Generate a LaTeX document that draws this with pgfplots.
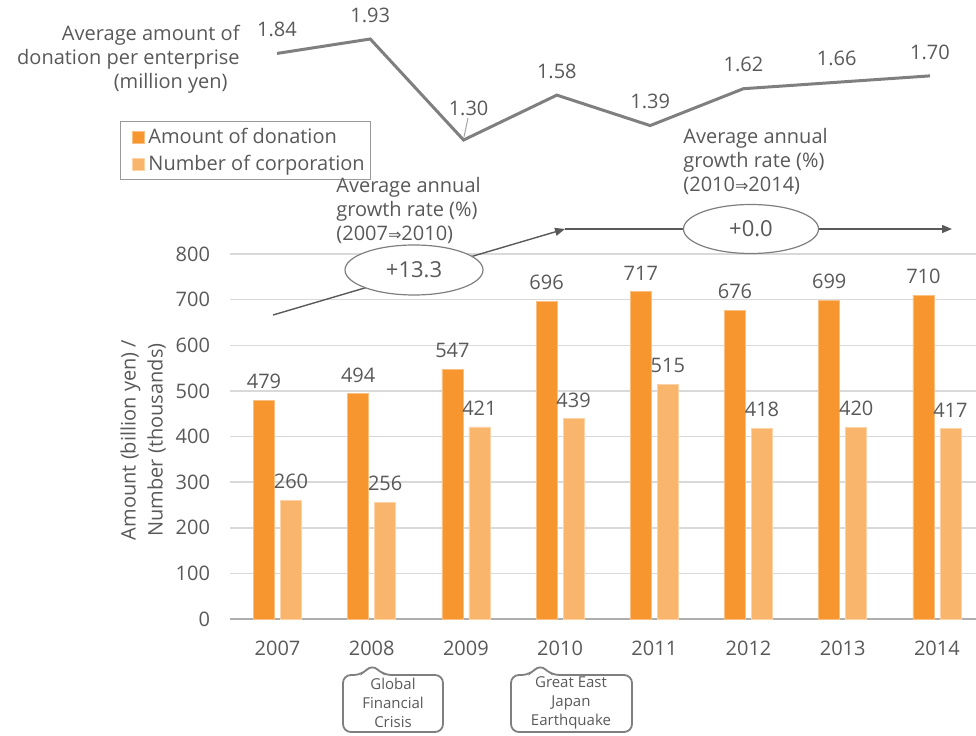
\documentclass[border=0pt]{standalone}
\usepackage{fontspec}
\setmainfont{Open Sans}
\newfontfamily\dejavu{DejaVu Sans}
\usepackage{pgfplots}
\pgfplotsset{compat=1.18}
\usetikzlibrary{shapes.geometric, arrows.meta}
\definecolor{barA}{HTML}{F7962F}
\definecolor{barB}{HTML}{FAB56C}
\definecolor{txt}{HTML}{595959}
\definecolor{lin}{HTML}{7F7F7F}
\definecolor{grd}{HTML}{D9D9D9}
\newcommand{\ra}{{\dejavu\fontsize{8}{10}\selectfont ⇒}}
\pgfplotsset{
  /pgf/number format/assume math mode=true,
  sq legend/.style={legend image code/.code={\path (0pt,0pt);
    \fill[##1] (4.5pt,-3pt) rectangle (10.5pt,3pt);}},
}
\tikzset{
  rate/.style={draw=lin, line width=0.6pt, fill=white, ellipse, inner sep=0pt,
    font=\fontsize{11}{13}\selectfont, text=txt},
  callout/.style={draw=lin, line width=0.9pt, rounded corners=4pt},
}

\begin{document}
\begin{tikzpicture}[x=0.5pt, y=0.5pt, font=\fontsize{10}{12}\selectfont, text=txt]
\path[use as bounding box] (0,0) rectangle (976,735);

% bars
\begin{axis}[
  at={(115.2pt,58pt)}, anchor=south west, scale only axis,
  width=372.8pt, height=182.5pt,
  ybar=3pt, bar width=10.5pt,
  xmin=-0.5, xmax=7.415, ymin=0, ymax=800,
  xtick={0,...,7},
  xticklabels={2007,2008,2009,2010,2011,2012,2013,2014},
  ytick={0,100,...,800},
  ymajorgrids, major grid style={grd, line width=0.75pt},
  axis x line*=bottom, x axis line style={draw=grd!80!black, line width=0.75pt},
  y axis line style={draw=none},
  major tick length=0pt,
  tick label style={font=\fontsize{10}{12}\selectfont, text=txt},
  yticklabel style={inner sep=0pt, xshift=-10pt},
  xticklabel style={inner sep=0pt, yshift=-11pt},
  clip=false,
  nodes near coords,
  nodes near coords style={inner sep=0pt, yshift=5.5pt,
    font=\fontsize{10}{12}\selectfont, text=txt},
  legend style={at={(axis description cs:-0.148,1.364)}, anchor=north west,
    draw=lin!80, line width=0.6pt, font=\fontsize{10}{12}\selectfont, text=txt,
    inner xsep=1pt, inner ysep=1pt, row sep=0.5pt},
  legend cell align=left,
]
\addplot[fill=barA, draw=barA!60!white, line width=0.4pt, sq legend] coordinates {
  (0,479) (1,494) (2,547) (3,696) (4,717) (5,676) (6,699) (7,710)};
\addplot[fill=barB, draw=barB!60!white, line width=0.4pt, sq legend] coordinates {
  (0,260) (1,256) (2,421) (3,439) (4,515) (5,418) (6,420) (7,417)};
\legend{Amount of donation, Number of corporation}
\end{axis}

% average donation per enterprise
\begin{axis}[
  at={(138.5pt,297.5pt)}, anchor=south west, scale only axis,
  width=326.5pt, height=50.5pt,
  xmin=0, xmax=7, ymin=1.30, ymax=1.93,
  hide axis, clip=false,
  nodes near coords={\pgfmathprintnumber[fixed, fixed zerofill, precision=2]{\pgfplotspointmeta}},
  nodes near coords style={inner sep=0pt, anchor=south, yshift=7.5pt,
    font=\fontsize{10}{12}\selectfont, text=txt},
  coordinate style/.condition={\coordindex==2}{yshift=4pt, xshift=2.5pt},
]
\addplot[lin, line width=1.5pt, mark=none] coordinates {
  (0,1.84) (1,1.93) (2,1.30) (3,1.58) (4,1.39) (5,1.62) (6,1.66) (7,1.70)};
\end{axis}
\draw[lin!70, line width=0.5pt] (468,617) -- (464,598);

\node[anchor=east, align=right, inner sep=0pt] at (240,676)
  {Average amount of\\donation per enterprise\\(million yen)\hspace*{6pt}};

% growth-rate annotations
\node[anchor=west, align=left, inner sep=0pt] at (336,525)
  {Average annual\\growth rate (\%)\\(2007\ra2010)};
\node[anchor=west, align=left, inner sep=0pt] at (683,574)
  {Average annual\\growth rate (\%)\\(2010\ra2014)};
\draw[txt, line width=0.7pt, -{Triangle[length=5pt, width=4pt]}] (273,420) -- (565,506);
\draw[txt, line width=0.7pt, -{Triangle[length=5pt, width=4pt]}] (565,506) -- (952,506);
\node[rate, minimum width=69pt, minimum height=25pt] at (414,465) {+13.3};
\node[rate, minimum width=67.5pt, minimum height=24.5pt] at (751,506) {+0.0};

% event callouts
\draw[callout] (343,60) -- (362,60) -- (372,71) -- (383,60) -- (443,60)
  -- (443,3) -- (343,3) -- cycle;
\node[align=center, font=\fontsize{7.5}{9.5}\selectfont] at (393,32)
  {Global\\Financial\\Crisis};
\draw[callout] (511,60) -- (530,60) -- (540,71) -- (551,60) -- (632,60)
  -- (632,3) -- (511,3) -- cycle;
\node[align=center, font=\fontsize{7.5}{9.5}\selectfont] at (571,32)
  {Great East\\Japan\\Earthquake};

% y label
\node[rotate=90, align=center, font=\fontsize{10}{13.5}\selectfont] at (143,295)
  {Amount (billion yen) /\\Number (thousands)};
\end{tikzpicture}
\end{document}
